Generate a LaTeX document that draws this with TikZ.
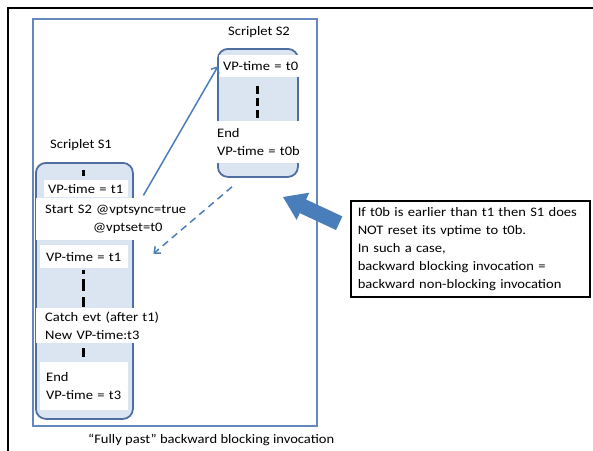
\documentclass[tikz,border=0pt]{standalone}
\usepackage{fontspec}
\setmainfont{Carlito}[FakeStretch=1.12]
\usepackage{xcolor}
\usepackage{tikz}
\usetikzlibrary{arrows.meta,calc}

\definecolor{boxblue}{RGB}{79,110,160}
\definecolor{boxfill}{RGB}{219,229,241}
\definecolor{frameblue}{RGB}{100,135,190}
\definecolor{arrowblue}{RGB}{74,126,187}

\begin{document}
\begin{tikzpicture}[x=1pt,y=-1pt,font=\fontsize{13}{18}\selectfont,
    scriplet/.style={draw=boxblue, fill=boxfill, line width=1.8pt, rounded corners=10pt, anchor=north west, inner sep=0pt},
    band/.style={fill=white, anchor=north west, inner ysep=0pt, align=left},
    dots/.style={line width=3pt, black},
    link/.style={draw=arrowblue, line width=1.5pt, -{Straight Barb[length=5pt,width=9pt]}}]
    \useasboundingbox (0,0) rectangle (593,450);

    % Frames
    \draw[line width=2pt] (8,452) -- (8,8) -- (595,8);
    \draw[frameblue, line width=1.5pt] (33,19) rectangle (317,426);

    % Scriplet S2
    \node[anchor=base west, inner sep=0pt] (s2name) at (228,35) {Scriplet S2};
    \node[scriplet, minimum width=80, minimum height=128] (s2box) at (217,48) {};
    \node[band, inner xsep=4pt, text width=86, minimum height=22] (s2a) at (219,55) {VP-time = t0};
    \draw[dots, dash pattern=on 8pt off 4pt] (257,86) -- (257,121);
    \node[band, inner xsep=3pt, text width=86, minimum height=42] (s2b) at (214,121) {End\\VP-time = t0b};

    % Scriplet S1
    \node[anchor=base west, inner sep=0pt] (s1name) at (50,148) {Scriplet S1};
    \node[scriplet, minimum width=97, minimum height=256] (s1box) at (35,162) {};
    \fill (81.5,170) rectangle (84.5,176);
    \node[band, inner xsep=4pt, text width=76, minimum height=17] (s1a) at (44,180) {VP-time = t1};
    \node[band, inner xsep=9pt, text width=145, minimum height=42] (s1b) at (36,198)
        {Start S2 @vptsync=true\\\hspace*{48pt}@vptset=t0};
    \node[band, inner xsep=6pt, text width=76, minimum height=23] (s1c) at (40,245) {VP-time = t1};
    \draw[dots, dash pattern=on 4pt off 5pt on 12pt off 6pt on 10pt off 20pt] (83,270) -- (83,307);
    \node[band, inner xsep=9pt, text width=120, minimum height=35] (s1d) at (36,308)
        {Catch evt (after t1)\\New VP-time:t3};
    \draw[dots] (83,348) -- (83,357);
    \node[band, inner xsep=6pt, text width=76, minimum height=48] (s1e) at (40,362) {End\\VP-time = t3};

    % Invocation and return
    \draw[link] ($(s1a.south east)+(15,-2)$) -- ($(s2a.west)+(-1,0)$);
    \draw[link, dash pattern=on 7pt off 5pt] ($(s2box.south west)+(15,9)$) -- ($(s1c.east)+(25,-3)$);

    % Note
    \fill[arrowblue, shift={(283,197)}, rotate=-25]
        (0,0) -- (22,15) -- (22,7.5) -- (62,7.5) -- (62,-7.5) -- (22,-7.5) -- (22,-15) -- cycle;
    \node[draw=black, line width=1.5pt, anchor=north west, inner xsep=7pt, text width=225,
        minimum height=96, align=left] (note) at (350,200)
        {If t0b is earlier than t1 then S1 does\\
         NOT reset its vptime to t0b.\\
         In such a case,\\
         backward blocking invocation =\\
         backward non-blocking invocation};

    \node[anchor=base west, inner sep=0pt] (caption) at (88,443)
        {``Fully past'' backward blocking invocation};
\end{tikzpicture}
\end{document}
